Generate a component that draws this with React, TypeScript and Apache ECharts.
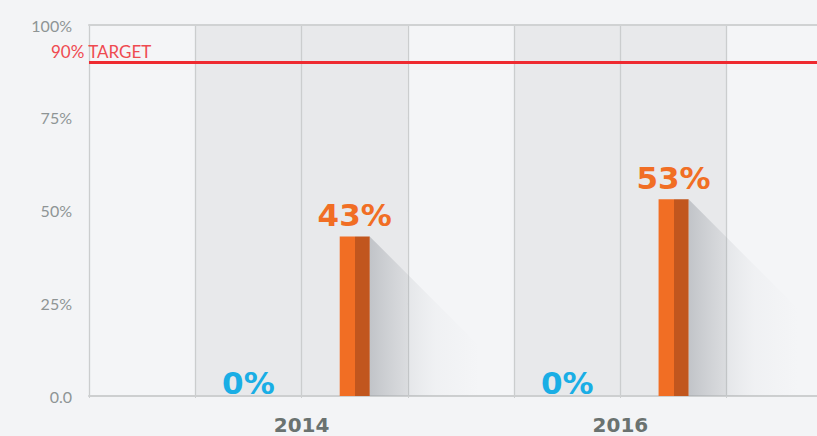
import React, { useEffect, useRef } from 'react';
import * as echarts from 'echarts';

const categories = ['2014', '2016'];
const blueValues = [0, 0];
const orangeValues = [43, 53];
const targetValue = 90;
const targetLabel = '90% TARGET';
const yTickValues = [0, 25, 50, 75, 100];
const yTickLabels = ['0.0', '25%', '50%', '75%', '100%'];

// each category occupies three columns: gap, blue, orange
const blueX = (i: number) => 1.5 + 3 * i;
const orangeX = (i: number) => 2.5 + 3 * i;
const labelX = (i: number) => 2 + 3 * i;

export default function App() {
  const ref = useRef<HTMLDivElement>(null);
  useEffect(() => {
    if (!ref.current) return;
    const chart = echarts.init(ref.current, undefined, { renderer: 'svg' });
    const labelMap: Record<number, string> = {};
    categories.forEach((c, i) => (labelMap[labelX(i)] = c));
    const orangeData = orangeValues.map((v, i) => [orangeX(i), v]);
    const blueData = blueValues.map((v, i) => [blueX(i), v]);
    chart.setOption({
      animation: false,
      backgroundColor: '#F3F4F6',
      grid: { left: 89, top: 25, bottom: 40, right: 1.5 },
      xAxis: [
        {
          type: 'value',
          min: 0,
          max: 7,
          interval: 1,
          axisLine: { show: true, lineStyle: { color: '#CDCFD0', width: 2 } },
          axisTick: { show: true, length: 2, lineStyle: { color: '#CDCFD0' } },
          axisLabel: {
            show: true,
            margin: 19,
            color: '#6A7270',
            fontFamily: 'DejaVu Sans',
            fontWeight: 'bold',
            fontSize: 20,
            formatter: (v: number) => labelMap[v] ?? '',
          },
          splitLine: { show: true, lineStyle: { color: '#CBCDCE', width: 1.3 } },
          splitArea: { show: true, areaStyle: { color: ['#F4F5F7', '#E8E9EB', '#E8E9EB'] } },
        },
        {
          type: 'value',
          position: 'top',
          min: 0,
          max: 7,
          interval: 1,
          axisLine: { show: true, lineStyle: { color: '#D0D2D3', width: 2 } },
          axisTick: { show: false },
          axisLabel: { show: false },
          splitLine: { show: false },
        },
      ],
      yAxis: {
        type: 'value',
        min: 0,
        max: 100,
        interval: 25,
        axisLine: { show: false },
        axisTick: { show: false },
        axisLabel: {
          margin: 17,
          color: '#8E9495',
          fontFamily: 'Lato',
          fontSize: 16,
          formatter: (v: number) => {
            const idx = yTickValues.indexOf(v);
            return idx >= 0 ? yTickLabels[idx] : '';
          },
        },
        splitLine: { show: true, lineStyle: { color: '#D9DBDC', width: 1.6 } },
      },
      series: [
        {
          type: 'custom',
          z: 1,
          silent: true,
          data: orangeData,
          renderItem: (params: any, api: any) => {
            const x = api.value(0);
            const v = api.value(1);
            const top = api.coord([x, v]);
            const base = api.coord([x, 0]);
            const right = top[0] + 15;
            const L = 110;
            const h = base[1] - top[1];
            const d = Math.min(L, h);
            return {
              type: 'polygon',
              shape: {
                points: [
                  [right, top[1]],
                  [right + d, top[1] + d],
                  [right + d, base[1]],
                  [right, base[1]],
                ],
              },
              style: {
                fill: new echarts.graphic.LinearGradient(0, 0, 1, 0, [
                  { offset: 0, color: 'rgba(135,140,148,0.4)' },
                  { offset: 0.35, color: 'rgba(150,155,162,0.16)' },
                  { offset: 0.6, color: 'rgba(170,175,180,0.06)' },
                  { offset: 1, color: 'rgba(180,184,190,0)' },
                ]),
              },
            };
          },
        },
        {
          type: 'bar',
          z: 3,
          barWidth: 30,
          data: blueData,
          itemStyle: { color: '#1AAEE5' },
          label: {
            show: true,
            position: 'top',
            distance: -2,
            color: '#1AAEE5',
            fontFamily: 'DejaVu Sans',
            fontWeight: 'bold',
            fontSize: 31,
            formatter: (p: any) => `${p.value[1]}%`,
          },
        },
        {
          type: 'bar',
          z: 3,
          barWidth: 30,
          barGap: '-100%',
          data: orangeData,
          itemStyle: {
            color: new echarts.graphic.LinearGradient(0, 0, 1, 0, [
              { offset: 0, color: '#F16E24' },
              { offset: 0.5, color: '#F16E24' },
              { offset: 0.5, color: '#C1561E' },
              { offset: 1, color: '#C1561E' },
            ]),
          },
          label: {
            show: true,
            position: 'top',
            distance: 6,
            color: '#F16E24',
            fontFamily: 'DejaVu Sans',
            fontWeight: 'bold',
            fontSize: 31,
            formatter: (p: any) => `${p.value[1]}%`,
          },
          markLine: {
            silent: true,
            symbol: 'none',
            lineStyle: { color: '#EE2A30', width: 3, type: 'solid' },
            label: {
              show: true,
              position: 'insideStartTop',
              offset: [-40, 0],
              distance: 2,
              color: '#EF4A50',
              fontFamily: 'Lato',
              fontSize: 17,
              formatter: () => targetLabel,
            },
            data: [{ yAxis: targetValue }],
          },
        },
      ],
    });
    return () => chart.dispose();
  }, []);
  return (
    <div style={{ position: 'fixed', left: 0, top: 0, width: 817, height: 436, overflow: 'hidden' }}>
      <div ref={ref} style={{ width: 836, height: 436 }} />
    </div>
  );
}
